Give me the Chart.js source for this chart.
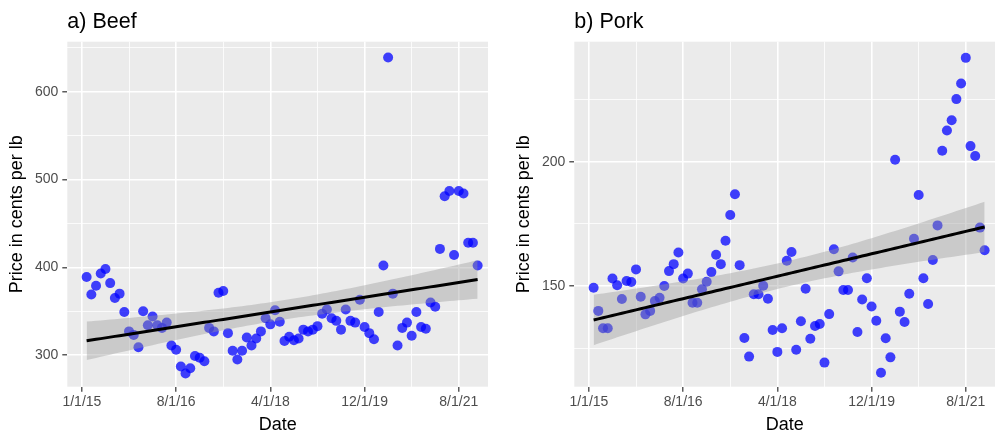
<!DOCTYPE html>
<html>
<head>
<meta charset="utf-8">
<script src="https://cdn.jsdelivr.net/npm/chart.js@4.4.1/dist/chart.umd.min.js"></script>
<style>
  html, body { margin: 0; padding: 0; background: #fff; }
  #wrap { position: relative; width: 1005px; height: 444px; }
  .panel { position: absolute; top: 0; }
</style>
</head>
<body>
<div id="wrap">
  <canvas id="beef" class="panel" width="500" height="444" style="left:0"></canvas>
  <canvas id="pork" class="panel" width="498" height="444" style="left:507px"></canvas>
</div>
<script>
// monthly prices, cents per lb
const beefPrice = [389, 369, 379, 393, 398, 382, 365, 370, 349, 327,
  323, 309, 350, 334, 344, 334, 331, 337, 311, 306,
  287, 279, 285, 299, 297, 293, 331, 327, 371, 373,
  325, 305, 295, 305, 320, 311, 319, 327, 342, 335,
  351, 338, 316, 321, 317, 319, 329, 327, 329, 333,
  347, 352, 342, 339, 329, 352, 339, 337, 363, 332,
  325, 318, 349, 402, 639, 370, 311, 331, 337, 322,
  349, 332, 330, 360, 355, 421, 481, 487, 414, 487,
  484, 428, 428, 402];

const porkPrice = [149.3, 140, 133, 133, 153, 150.3, 144.8, 152, 151.6, 156.7,
  145.7, 138.6, 140, 144, 145.3, 150, 156, 158.8, 163.5, 153,
  155, 143.3, 143.3, 148.7, 151.7, 155.6, 162.6, 158.8, 168.2, 178.6,
  186.9, 158.4, 129.1, 121.6, 146.7, 146.7, 150.1, 144.9, 132.3, 123.5,
  133, 160.2, 163.7, 124.4, 135.8, 148.9, 128.8, 133.9, 134.7, 119.2,
  138.7, 164.8, 155.9, 148.4, 148.4, 161.5, 131.5, 144.6, 153.1, 141.8,
  136, 115.1, 129, 121.3, 200.8, 139.7, 135.5, 146.9, 169, 186.6,
  153.1, 142.8, 160.5, 174.4, 204.4, 212.6, 216.7, 225.2, 231.5, 241.8,
  206.3, 202.3, 173.5, 164.4];

const xTickPos = [0, 20, 40, 60, 80];
const xTickLabels = ["1/1/15", "8/1/16", "4/1/18", "12/1/19", "8/1/21"];
const xMinorPos = [10, 30, 50, 70];

const beefYTicks = [300, 400, 500, 600];
const beefYMinor = [350, 450, 550, 650];
const porkYTicks = [150, 200];
const porkYMinor = [125, 175, 225];

const FONT = '"Liberation Sans", Arial, Helvetica, sans-serif';

// least squares line with 95% confidence band, like geom_smooth(method = "lm")
function lmBand(ys) {
  const xs = ys.map((_, i) => i + 1);
  const n = xs.length;
  const mx = xs.reduce((a, b) => a + b, 0) / n;
  const my = ys.reduce((a, b) => a + b, 0) / n;
  let sxx = 0, sxy = 0;
  for (let i = 0; i < n; i++) {
    sxx += (xs[i] - mx) ** 2;
    sxy += (xs[i] - mx) * (ys[i] - my);
  }
  const b = sxy / sxx, a = my - b * mx;
  let sse = 0;
  for (let i = 0; i < n; i++) sse += (ys[i] - a - b * xs[i]) ** 2;
  const s = Math.sqrt(sse / (n - 2));
  const t = 1.989;
  return xs.map(x => {
    const yhat = a + b * x;
    const se = s * Math.sqrt(1 / n + (x - mx) ** 2 / sxx);
    return { x: x, y: yhat, lo: yhat - t * se, hi: yhat + t * se };
  });
}

const panelBits = {
  id: "panelBits",
  beforeDraw(chart) {
    const { ctx, chartArea } = chart;
    ctx.save();
    ctx.fillStyle = "#EBEBEB";
    ctx.fillRect(chartArea.left, chartArea.top, chartArea.right - chartArea.left, chartArea.bottom - chartArea.top);
    ctx.restore();
  },
  afterDraw(chart, args, opts) {
    const { ctx, chartArea } = chart;
    ctx.save();
    ctx.font = "21.5px " + FONT;
    ctx.fillStyle = "#000";
    ctx.textBaseline = "alphabetic";
    ctx.fillText(opts.text, chartArea.left, 28);
    ctx.restore();
  }
};

function makePanel(id, title, values, yMin, yMax, yMajor, yMinor) {
  const fit = lmBand(values);
  const pts = values.map((v, i) => ({ x: i + 1, y: v }));
  const xAll = xTickPos.concat(xMinorPos).sort((a, b) => a - b);
  const yAll = yMajor.concat(yMinor).sort((a, b) => a - b);

  return new Chart(document.getElementById(id), {
    type: "scatter",
    data: {
      datasets: [
        {
          data: pts,
          backgroundColor: "rgba(0,0,255,0.74)",
          borderWidth: 0,
          pointRadius: 5,
          pointHoverRadius: 5,
          order: 3
        },
        {
          type: "line",
          data: fit.map(p => ({ x: p.x, y: p.hi })),
          borderWidth: 0,
          pointRadius: 0,
          backgroundColor: "rgba(153,153,153,0.4)",
          fill: "+1",
          order: 2
        },
        {
          type: "line",
          data: fit.map(p => ({ x: p.x, y: p.lo })),
          borderWidth: 0,
          pointRadius: 0,
          fill: false,
          order: 2
        },
        {
          type: "line",
          data: fit.map(p => ({ x: p.x, y: p.y })),
          borderColor: "#000",
          borderWidth: 3,
          pointRadius: 0,
          fill: false,
          order: 1
        }
      ]
    },
    options: {
      responsive: false,
      animation: false,
      layout: { autoPadding: false, padding: { left: 0, top: 41.7, right: id === "beef" ? 12 : 10, bottom: 0 } },
      plugins: {
        legend: { display: false },
        tooltip: { enabled: false },
        panelBits: { text: title }
      },
      scales: {
        x: {
          type: "linear",
          min: -3.1,
          max: 86.2,
          afterBuildTicks: s => { s.ticks = xAll.map(v => ({ value: v })); },
          afterFit: s => { s.height = 444 - 386.7; },
          ticks: {
            autoSkip: false,
            maxRotation: 0,
            color: "#4D4D4D",
            font: { size: 14, family: FONT },
            padding: 2,
            callback: v => {
              const k = xTickPos.indexOf(v);
              return k >= 0 ? xTickLabels[k] : "";
            }
          },
          grid: {
            color: "#FFFFFF",
            lineWidth: c => (xTickPos.includes(c.tick && c.tick.value) ? 1.6 : 0.8),
            tickLength: 5,
            tickWidth: 1.2,
            tickColor: c => (xTickPos.includes(c.tick && c.tick.value) ? "#333333" : "rgba(0,0,0,0)")
          },
          border: { display: false },
          title: { display: true, text: "Date", color: "#000", font: { size: 18, family: FONT }, padding: { top: 0, bottom: 8 } }
        },
        y: {
          type: "linear",
          min: yMin,
          max: yMax,
          afterBuildTicks: s => { s.ticks = yAll.map(v => ({ value: v })); },
          afterFit: s => { s.width = 67.3; },
          ticks: {
            color: "#4D4D4D",
            font: { size: 14, family: FONT },
            padding: 4,
            callback: v => (yMajor.includes(v) ? String(v) : "")
          },
          grid: {
            color: "#FFFFFF",
            lineWidth: c => (yMajor.includes(c.tick && c.tick.value) ? 1.6 : 0.8),
            tickLength: 5,
            tickWidth: 1.2,
            tickColor: c => (yMajor.includes(c.tick && c.tick.value) ? "#333333" : "rgba(0,0,0,0)")
          },
          border: { display: false },
          title: { display: true, text: "Price in cents per lb", color: "#000", font: { size: 18, family: FONT }, padding: { top: 6, bottom: 0 } }
        }
      }
    },
    plugins: [panelBits]
  });
}

makePanel("beef", "a) Beef", beefPrice, 264, 657, beefYTicks, beefYMinor);
makePanel("pork", "b) Pork", porkPrice, 109.5, 248.3, porkYTicks, porkYMinor);
</script>
</body>
</html>
